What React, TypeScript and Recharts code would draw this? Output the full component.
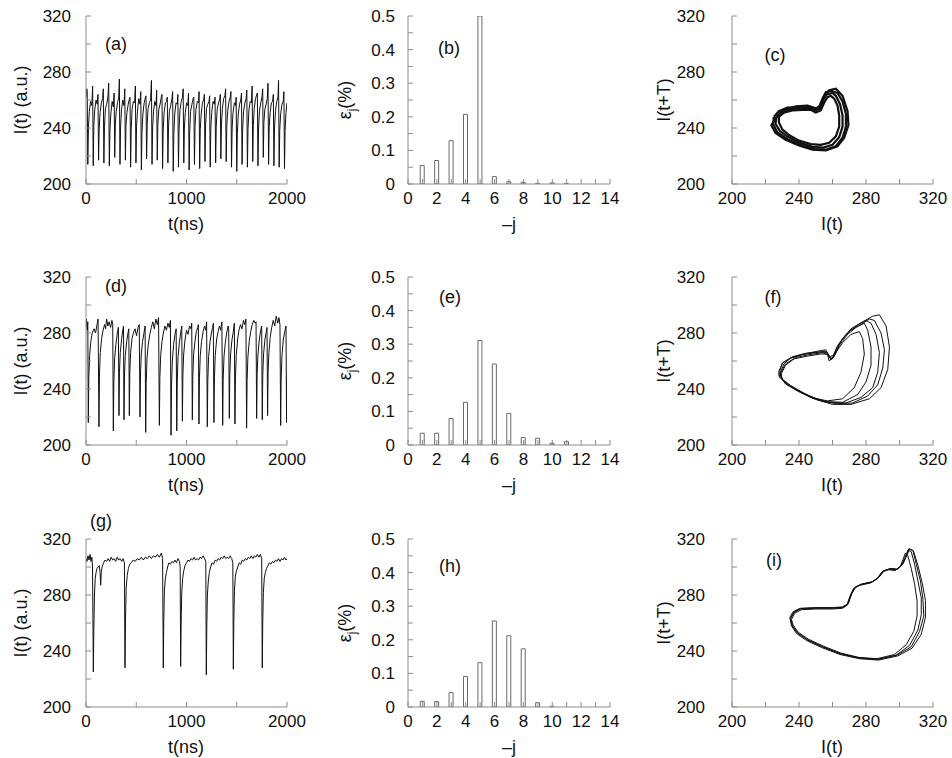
import React from 'react';
import { LineChart, Line, BarChart, Bar, XAxis, YAxis } from 'recharts';

const FONT = '"Liberation Sans", Arial, Helvetica, sans-serif';
const FRAME = '#8c8c8c';
const INK = '#111';

// ---------- tick values ----------
const timeTicks = [0, 500, 1000, 1500, 2000];
const timeLabels = [0, 1000, 2000];
const intensityTicks = [200, 220, 240, 260, 280, 300, 320];
const intensityLabels = [200, 240, 280, 320];
const jTicks = [0, 1, 2, 3, 4, 5, 6, 7, 8, 9, 10, 11, 12, 13, 14];
const jLabels = [0, 2, 4, 6, 8, 10, 12, 14];
const epsTicks = [0, 0.05, 0.1, 0.15, 0.2, 0.25, 0.3, 0.35, 0.4, 0.45, 0.5];
const epsLabels = [0, 0.1, 0.2, 0.3, 0.4, 0.5];

// ---------- bar data (-j, eps_j %) ----------
const jValues = [1, 2, 3, 4, 5, 6, 7, 8, 9, 10, 11, 12, 13];
const epsB = [0.055, 0.07, 0.129, 0.207, 0.5, 0.022, 0.007, 0.005, 0.002, 0.003, 0.001, 0.0, 0.0];
const epsE = [0.035, 0.035, 0.079, 0.127, 0.311, 0.241, 0.094, 0.022, 0.02, 0.005, 0.01, 0.0, 0.0];
const epsH = [0.017, 0.016, 0.043, 0.091, 0.132, 0.256, 0.212, 0.173, 0.013, 0.002, 0.0, 0.0, 0.0];

// ---------- time series [t(ns), I(t)] ----------
const seriesA: number[][] = [
  [0,262],[8,268],[12,266],
  [18,214],[24,240],[33,252],[46,259],[58,256],[66,270],
  [72,213],[78,242],[87,253],[100,260],[112,257],[119,264],
  [125,217],[131,239],[140,251],[153,258],[165,261],[172,268],
  [178,215],[184,241],[193,254],[206,257],[218,262],[226,272],
  [232,213],[238,238],[247,250],[260,259],[272,255],[280,265],
  [286,219],[292,243],[301,252],[314,258],[326,262],[332,275],
  [338,214],[344,240],[353,253],[366,260],[378,256],[386,268],
  [392,217],[398,242],[407,251],[420,257],[432,261],[438,262],
  [444,212],[450,239],[459,254],[472,259],[484,258],[491,270],
  [497,215],[503,241],[512,252],[525,261],[537,257],[545,266],
  [551,210],[557,237],[566,250],[579,258],[591,262],[597,263],
  [603,218],[609,243],[618,254],[631,258],[643,260],[651,274],
  [657,214],[663,240],[672,252],[685,259],[697,256],[703,267],
  [709,217],[715,242],[724,253],[737,257],[749,262],[756,264],
  [762,211],[768,238],[777,251],[790,258],[802,259],[809,262],
  [815,215],[821,241],[830,252],[843,256],[855,261],[862,266],
  [868,209],[874,236],[883,250],[896,258],[908,257],[914,264],
  [920,212],[926,239],[935,253],[948,259],[960,262],[967,268],
  [973,215],[979,240],[988,251],[1001,258],[1013,256],[1020,265],
  [1026,210],[1032,238],[1041,252],[1054,257],[1066,261],[1073,262],
  [1079,214],[1085,241],[1094,253],[1107,259],[1119,258],[1125,266],
  [1131,211],[1137,239],[1146,250],[1159,258],[1171,260],[1178,264],
  [1184,216],[1190,242],[1199,254],[1212,257],[1224,259],[1230,263],
  [1236,212],[1242,240],[1251,251],[1264,259],[1276,257],[1284,262],
  [1290,215],[1296,241],[1305,253],[1318,258],[1330,260],[1336,264],
  [1342,218],[1348,243],[1357,254],[1370,261],[1382,263],[1389,268],
  [1395,216],[1401,242],[1410,252],[1423,259],[1435,262],[1442,266],
  [1448,212],[1454,240],[1463,251],[1476,258],[1488,256],[1494,262],
  [1500,209],[1506,236],[1515,250],[1528,257],[1540,260],[1547,265],
  [1553,214],[1559,240],[1568,252],[1581,258],[1593,261],[1600,267],
  [1606,212],[1612,239],[1621,253],[1634,259],[1646,258],[1653,270],
  [1659,216],[1665,242],[1674,254],[1687,261],[1699,264],[1705,265],
  [1711,213],[1717,240],[1726,252],[1739,258],[1751,262],[1758,268],
  [1764,219],[1770,244],[1779,253],[1792,257],[1804,261],[1811,272],
  [1817,214],[1823,241],[1832,251],[1845,258],[1857,259],[1864,264],
  [1870,213],[1876,240],[1885,252],[1898,259],[1910,262],[1916,274],
  [1922,212],[1928,239],[1937,250],[1950,257],[1962,259],[1969,266],
  [1975,211],[1981,238],[1990,251],[2000,258],
];

const seriesD: number[][] = [
  [0,284],[5,290],[12,282],[18,288],
  [23,216],[28,248],[36,264],[48,274],[62,280],[80,283],[95,280],[110,286],[120,290],
  [129,213],[134,250],[142,266],[155,276],[170,282],[185,286],[195,283],[205,290],[218,285],[230,288],[245,284],[258,289],[266,286],
  [272,210],[277,245],[285,262],[298,272],[312,280],[322,284],
  [328,221],[333,252],[341,266],[355,276],[368,283],[373,285],
  [378,218],[383,250],[391,264],[405,274],[418,280],[426,283],
  [431,221],[436,252],[444,266],[458,276],[472,280],[488,283],[503,278],[518,284],[530,286],
  [537,220],[542,250],[550,265],[563,274],[577,280],[588,285],
  [594,209],[599,244],[607,262],[620,272],[635,279],[650,284],[665,288],[680,283],[695,290],[710,286],[722,291],
  [730,214],[735,248],[743,264],[756,274],[770,280],[785,285],[800,282],[815,287],[828,284],[840,289],
  [846,207],[851,242],[859,260],[872,272],[885,279],[897,283],
  [903,210],[908,245],[916,263],[929,273],[942,280],[953,285],
  [959,217],[964,250],[972,265],[985,275],[1000,282],[1015,279],[1030,285],[1045,283],[1052,287],
  [1058,218],[1063,250],[1071,265],[1084,274],[1098,281],[1112,284],[1118,286],
  [1124,215],[1129,248],[1137,264],[1150,274],[1165,281],[1180,285],[1192,282],[1200,288],
  [1207,213],[1212,246],[1220,263],[1233,273],[1248,280],[1260,284],[1267,287],
  [1273,216],[1278,248],[1286,264],[1299,275],[1314,281],[1328,285],[1340,282],[1352,288],
  [1360,214],[1365,247],[1373,263],[1386,273],[1400,280],[1414,285],[1420,283],
  [1426,219],[1431,251],[1439,265],[1452,275],[1466,281],[1476,287],
  [1482,215],[1487,248],[1495,264],[1508,275],[1522,282],[1537,286],[1552,283],[1567,289],[1580,286],[1591,290],
  [1598,212],[1603,246],[1611,263],[1624,274],[1639,281],[1654,286],[1669,289],[1684,287],[1692,288],
  [1698,219],[1703,251],[1711,265],[1724,275],[1738,282],[1748,285],
  [1754,218],[1759,250],[1767,265],[1780,275],[1794,281],[1801,284],
  [1807,221],[1812,252],[1820,266],[1833,277],[1848,284],[1863,289],[1878,285],[1893,292],[1908,287],[1920,291],[1930,286],
  [1937,214],[1942,247],[1950,264],[1963,275],[1977,281],[1990,285],
  [1996,216],[2000,250],
];

const seriesG: number[][] = [
  [0,306],[10,304],[20,308],[30,305],[40,309],[50,304],[58,307],[65,300],
  [73,225],[78,255],[84,280],[92,292],[100,296],[110,299],[120,300],[132,301],[140,296],[146,287],[152,296],[160,300],[175,303],[190,305],[205,304],[220,306],[235,304],[250,307],[265,305],[280,306],[295,304],[310,307],[325,305],[340,306],[355,304],[370,306],[382,303],
  [388,228],[393,262],[400,285],[410,294],[422,299],[435,302],[450,303],[470,305],[490,304],[510,306],[530,305],[550,307],[570,305],[590,307],[610,306],[630,308],[650,306],[670,308],[690,307],[710,309],[730,307],[750,310],[762,306],
  [769,228],[774,262],[780,283],[790,292],[800,296],[812,300],[825,303],[840,302],[855,304],[870,303],[885,305],[900,303],[915,306],[930,304],[937,300],
  [942,229],[947,262],[953,282],[962,292],[972,297],[985,301],[1000,303],[1015,305],[1030,304],[1045,306],[1060,305],[1075,307],[1090,305],[1105,306],[1120,305],[1135,307],[1150,306],[1165,308],[1180,306],[1192,304],
  [1197,223],[1202,258],[1208,280],[1217,290],[1227,296],[1240,300],[1255,303],[1270,302],[1285,305],[1300,304],[1315,306],[1330,305],[1345,307],[1360,306],[1375,308],[1390,306],[1405,307],[1420,306],[1435,308],[1450,306],[1461,303],
  [1466,227],[1471,262],[1477,283],[1486,293],[1496,297],[1510,300],[1525,303],[1540,302],[1555,305],[1570,304],[1585,306],[1600,305],[1615,307],[1630,306],[1645,308],[1660,306],[1675,308],[1690,307],[1705,309],[1720,307],[1735,309],[1748,306],
  [1754,228],[1759,262],[1765,282],[1774,292],[1784,296],[1797,299],[1810,301],[1825,303],[1840,302],[1855,304],[1870,303],[1885,305],[1900,304],[1915,306],[1930,304],[1945,306],[1960,305],[1975,307],[1990,305],[2000,306],
];

// ---------- phase portraits: loops of [I(t), I(t+T)] ----------
const loopsC: number[][][] = [
  [[225,248],[228,252],[233,254.5],[240,255],[246,255.5],[250,253.5],[252,255],[254,261],[256,265.5],[259,266.5],[263,265],[266,259],[268,250],[268,241],[266,233],[262,227],[256,224.5],[249,225],[241,228],[233,232],[227,237],[224.5,243],[225,248]],
  [[228,248],[231,251],[236,252.5],[242,253],[247,253],[250,251],[253,252.5],[255,258],[257,262],[259,263],[261,261],[263,256],[264,249],[264,241],[262,234],[258,229.5],[253,228],[247,228.5],[240,231],[234,235],[230,239],[228,244],[228,248]],
  [[226.5,248],[229.5,251.5],[234.5,253.5],[241,254],[246.5,254.5],[250,252.5],[252.5,254],[254.5,260],[256.5,264],[260,265],[262,263],[264.5,257],[266,249],[266,241],[264,233.5],[260,228],[254.5,226],[248,226.5],[240.5,229.5],[233.5,233.5],[228.5,238],[226,243],[226.5,248]],
  [[226,247],[230,252],[238,255.5],[245,256],[250,254],[253,256],[255,263],[258,267],[262,268],[266,263],[269,252],[269.5,242],[267,233],[263,227],[256,224],[248,224.5],[240,227.5],[232,231.5],[226,236.5],[223.5,242],[226,247]],
];

const loopsF: number[][][] = [
  [[229,252],[231,258],[235,262],[242,264.5],[250,266],[256,267],[258.5,262],[260,262],[262,268],[266,276],[271,282],[277,286],[282,290],[285,289],[289,280],[291,268],[290,255],[287,243],[281,235],[272,230],[262,229.5],[252,232],[243,237],[235,242.5],[230,247],[229,252]],
  [[228,253],[230.5,259],[236,263],[244,265.5],[252,266.5],[257,266],[259,261],[261,263],[264,271],[269,279],[274,284],[279,287],[281,282],[283,270],[283,257],[280,245],[275,236],[266,230.5],[256,231],[246,235],[237,240.5],[231,245.5],[228,249],[228,253]],
  [[229.5,251],[232,257],[237,261.5],[245,263.5],[253,265],[257,265],[258,260],[261,264],[265,274],[271,283],[278,288],[284,292],[288,293],[292,285],[294,270],[293,254],[289,241],[282,233],[271,229],[260,229],[250,232.5],[240,238],[232,243.5],[229.5,248],[229.5,251]],
  [[228.5,252.5],[230,258.5],[235.5,262.5],[243,265],[251,267],[256,268],[258,263],[260.5,264],[263,271],[268,279],[274,285],[280,289],[283,287],[286,279],[288,266],[287,252],[284,241],[277,234],[268,230],[258,230.5],[248,233.5],[239,239],[232,244],[228.5,248.5],[228.5,252.5]],
  [[229,251.5],[232,258],[238,262.5],[246,264.5],[254,266],[258,264],[259.5,261],[262,266],[266,273],[271,279],[276,281],[278,276],[279,265],[277,252],[273,241],[266,233],[257,231.5],[247,234],[238,239.5],[231.5,245],[229,249],[229,251.5]],
];

const loopsI: number[][][] = [
  [[235,263],[237,267.5],[241,270],[250,270.5],[260,270.5],[266,271],[269,273],[271,280],[273,285],[277,287.5],[283,289],[287,292],[290,297],[294,298.5],[298,298],[301,301],[303,306],[305,312],[307,311],[309,302],[311,290],[313,278],[313,266],[311,255],[306,244],[298,237],[287,234],[276,235],[265,238],[254,243],[245,248],[239,253],[236,258],[235,263]],
  [[234.5,264],[236.5,268],[240.5,270.5],[250,271],[260,271],[266,271.5],[269.5,274],[271.5,281],[274,286],[278,288],[284,289.5],[288,293],[291,297.5],[295,299],[299,298.5],[302,302],[304,307],[306,313],[308.5,311],[311,301],[313.5,289],[315.5,276],[315.5,264],[313,252],[307.5,242],[299,236.5],[287.5,233.5],[276,234.5],[264.5,237.5],[253.5,242.5],[244.5,247.5],[238.5,252.5],[235.5,258],[234.5,264]],
  [[235.5,262.5],[237.5,267],[241.5,269.5],[250,270],[260,270],[266,270.5],[268.5,272.5],[270.5,279.5],[272.5,284.5],[276.5,287],[282.5,288.5],[286.5,291.5],[289.5,296.5],[293.5,298],[297.5,297.5],[300.5,300.5],[302,305],[303.5,310],[305,308],[307,299],[309,288],[310.5,276],[310.5,265],[308.5,254],[304,244.5],[297,237.5],[286.5,234.5],[275.5,235.5],[265,238.5],[254.5,243.5],[245.5,248.5],[239.5,253.5],[236.5,258.5],[235.5,262.5]],
  [[235,263.5],[237,268],[241,270.3],[250,270.8],[260,270.8],[266,271.2],[269.2,273.5],[271.2,280.5],[273.5,285.5],[277.5,287.8],[283.5,289.3],[287.5,292.5],[290.5,297.2],[294.5,298.8],[298.5,298.2],[301.5,301.5],[303.5,306.5],[305.5,313],[308,312],[310,302],[312.5,290],[314,277],[314.5,265],[312,254],[307,243],[298.5,237],[287,234],[276,235],[265,238],[254,243],[245,248],[239,253],[236,258],[235,263.5]],
];

// ---------- layout ----------
const ML = 110; // room left of plot inside each chart
const MT = 10;
const MR = 30;
const MB = 40;
const PH = 168;

const isLabel = (labels: number[], v: number) => labels.some((l) => Math.abs(l - v) < 1e-9);

const tickText = (x: number, y: number, anchor: string, v: number) => (
  <text x={x} y={y} textAnchor={anchor} fontSize={17} fontFamily={FONT} fill={INK}>
    {String(v)}
  </text>
);

const bottomTick = (labels: number[]) => (p: any) => (
  <g>
    <line x1={p.x} x2={p.x} y1={p.y} y2={p.y - 5} stroke={FRAME} />
    {isLabel(labels, p.payload.value) && tickText(p.x, p.y + 20, 'middle', p.payload.value)}
  </g>
);
const topTick = () => (p: any) => (
  <g>
    <line x1={p.x} x2={p.x} y1={p.y} y2={p.y + 5} stroke={FRAME} />
  </g>
);
const leftTick = (labels: number[], gap: number) => (p: any) => (
  <g>
    <line x1={p.x} x2={p.x + 5} y1={p.y} y2={p.y} stroke={FRAME} />
    {isLabel(labels, p.payload.value) && tickText(p.x - gap, p.y + 6, 'end', p.payload.value)}
  </g>
);
const rightTick = () => (p: any) => (
  <g>
    <line x1={p.x} x2={p.x - 5} y1={p.y} y2={p.y} stroke={FRAME} />
  </g>
);

type AxisSpec = {
  xDomain: number[];
  xTicks: number[];
  xLabels: number[];
  yDomain: number[];
  yTicks: number[];
  yLabels: number[];
  gap: number;
  xKey: string;
  yKey: string;
};

const axes = (s: AxisSpec) => [
  <XAxis key="xb" xAxisId="b" orientation="bottom" type="number" dataKey={s.xKey} domain={s.xDomain}
    allowDataOverflow ticks={s.xTicks} interval={0} height={MB} tickSize={0} tickMargin={0} tickLine={false}
    axisLine={{ stroke: FRAME }} tick={bottomTick(s.xLabels)} />,
  <XAxis key="xt" xAxisId="t" orientation="top" type="number" dataKey={s.xKey} domain={s.xDomain}
    allowDataOverflow ticks={s.xTicks} interval={0} height={0} tickSize={0} tickMargin={0} tickLine={false}
    axisLine={{ stroke: FRAME }} tick={topTick()} />,
  <YAxis key="yl" yAxisId="l" orientation="left" type="number" dataKey={s.yKey} domain={s.yDomain}
    allowDataOverflow ticks={s.yTicks} interval={0} width={ML} tickSize={0} tickMargin={0} tickLine={false}
    axisLine={{ stroke: FRAME }} tick={leftTick(s.yLabels, s.gap)} />,
  <YAxis key="yr" yAxisId="r" orientation="right" type="number" dataKey={s.yKey} domain={s.yDomain}
    allowDataOverflow ticks={s.yTicks} interval={0} width={0} tickSize={0} tickMargin={0} tickLine={false}
    axisLine={{ stroke: FRAME }} tick={rightTick()} />,
];

const timeSpec: AxisSpec = {
  xDomain: [0, 2000], xTicks: timeTicks, xLabels: timeLabels,
  yDomain: [200, 320], yTicks: intensityTicks, yLabels: intensityLabels, gap: 15, xKey: 'x', yKey: 'y',
};
const barSpec: AxisSpec = {
  xDomain: [0, 14], xTicks: jTicks, xLabels: jLabels,
  yDomain: [0, 0.5], yTicks: epsTicks, yLabels: epsLabels, gap: 13, xKey: 'j', yKey: 'v',
};
const phaseSpec: AxisSpec = {
  xDomain: [200, 320], xTicks: intensityTicks, xLabels: intensityLabels,
  yDomain: [200, 320], yTicks: intensityTicks, yLabels: intensityLabels, gap: 27, xKey: 'x', yKey: 'y',
};

const TimePanel = ({ left, top, series }: { left: number; top: number; series: number[][] }) => {
  const w = 201;
  const data = series.map(([t, v]) => ({ x: t, y: v }));
  return (
    <div style={{ position: 'absolute', left: left - ML, top: top - MT }}>
      <LineChart width={ML + w + MR} height={MT + PH + MB} data={data} margin={{ top: MT, right: MR, bottom: 0, left: 0 }}>
        {axes(timeSpec)}
        <Line xAxisId="b" yAxisId="l" type="linear" dataKey="y" stroke="#111" strokeWidth={1} dot={false} isAnimationActive={false} />
      </LineChart>
    </div>
  );
};

const BarPanel = ({ left, top, values }: { left: number; top: number; values: number[] }) => {
  const w = 202;
  const data = jValues.map((j, i) => ({ j, v: values[i] }));
  return (
    <div style={{ position: 'absolute', left: left - ML, top: top - MT }}>
      <BarChart width={ML + w + MR} height={MT + PH + MB} data={data} margin={{ top: MT, right: MR, bottom: 0, left: 0 }}>
        {axes(barSpec)}
        <Bar xAxisId="b" yAxisId="l" dataKey="v" barSize={4} fill="#ffffff" stroke="#6a6a6a" strokeWidth={1} isAnimationActive={false} />
      </BarChart>
    </div>
  );
};

const PhasePanel = ({ left, top, loops, sw }: { left: number; top: number; loops: number[][][]; sw: number }) => {
  const w = 201;
  return (
    <div style={{ position: 'absolute', left: left - ML, top: top - MT }}>
      <LineChart width={ML + w + MR} height={MT + PH + MB} margin={{ top: MT, right: MR, bottom: 0, left: 0 }}>
        {axes(phaseSpec)}
        {loops.map((loop, k) => (
          <Line key={k} xAxisId="b" yAxisId="l" type="linear" data={loop.map(([a, b]) => ({ x: a, y: b }))}
            dataKey="y" stroke="#111" strokeWidth={sw} dot={false} isAnimationActive={false} />
        ))}
      </LineChart>
    </div>
  );
};

const Txt = ({ x, y, rot, children, size = 18 }: any) => (
  <div
    style={{
      position: 'absolute', left: x, top: y, transform: `translate(-50%, -50%)${rot ? ' rotate(-90deg)' : ''}`,
      whiteSpace: 'nowrap', fontFamily: FONT, fontSize: size, color: INK, lineHeight: 1,
    }}
  >
    {children}
  </div>
);

const cols = [86, 408, 732];
const rows = [16, 277, 539];

export default function App() {
  const eps = (
    <span>
      ε<sub style={{ fontSize: 12 }}>j</sub>(%)
    </span>
  );
  return (
    <div style={{ position: 'absolute', left: 0, top: 0, width: 952, height: 758, overflow: 'hidden', background: '#fff' }}>
      <TimePanel left={cols[0]} top={rows[0]} series={seriesA} />
      <TimePanel left={cols[0]} top={rows[1]} series={seriesD} />
      <TimePanel left={cols[0]} top={rows[2]} series={seriesG} />
      <BarPanel left={cols[1]} top={rows[0]} values={epsB} />
      <BarPanel left={cols[1]} top={rows[1]} values={epsE} />
      <BarPanel left={cols[1]} top={rows[2]} values={epsH} />
      <PhasePanel left={cols[2]} top={rows[0]} loops={loopsC} sw={2.2} />
      <PhasePanel left={cols[2]} top={rows[1]} loops={loopsF} sw={1} />
      <PhasePanel left={cols[2]} top={rows[2]} loops={loopsI} sw={1} />

      {rows.map((r, i) => (
        <React.Fragment key={i}>
          <Txt x={21} y={r + PH / 2} rot>I(t) (a.u.)</Txt>
          <Txt x={347} y={r + PH / 2} rot>{eps}</Txt>
          <Txt x={664} y={r + PH / 2} rot>I(t+T)</Txt>
          <Txt x={186} y={r + PH + 40}>t(ns)</Txt>
          <Txt x={509} y={r + PH + 40}>–j</Txt>
          <Txt x={832} y={r + PH + 40}>I(t)</Txt>
        </React.Fragment>
      ))}

      <Txt x={116} y={44}>(a)</Txt>
      <Txt x={449} y={48}>(b)</Txt>
      <Txt x={775} y={55}>(c)</Txt>
      <Txt x={116} y={286}>(d)</Txt>
      <Txt x={450} y={297}>(e)</Txt>
      <Txt x={773} y={297}>(f)</Txt>
      <Txt x={101} y={521}>(g)</Txt>
      <Txt x={450} y={566}>(h)</Txt>
      <Txt x={774} y={560}>(i)</Txt>
    </div>
  );
}
